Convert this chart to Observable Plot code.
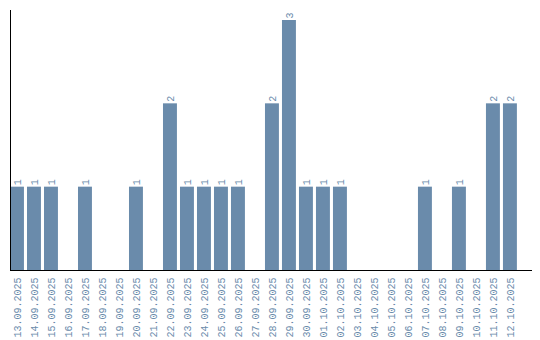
<!DOCTYPE html>
<html>
<head>
<meta charset="utf-8">
<script src="https://cdn.jsdelivr.net/npm/d3@7"></script>
<script src="https://cdn.jsdelivr.net/npm/@observablehq/plot@0.6"></script>
<style>
  body { margin: 0; background: #fff; }
  #chart svg { display: block; }
</style>
</head>
<body>
<div id="chart"></div>
<script>
const dates = ["13.09.2025","14.09.2025","15.09.2025","16.09.2025","17.09.2025","18.09.2025","19.09.2025","20.09.2025","21.09.2025","22.09.2025","23.09.2025","24.09.2025","25.09.2025","26.09.2025","27.09.2025","28.09.2025","29.09.2025","30.09.2025","01.10.2025","02.10.2025","03.10.2025","04.10.2025","05.10.2025","06.10.2025","07.10.2025","08.10.2025","09.10.2025","10.10.2025","11.10.2025","12.10.2025"];
const counts = [1,1,1,0,1,0,0,1,0,2,1,1,1,1,0,2,3,1,1,1,0,0,0,0,1,0,1,0,2,2];

const data = dates.map((d, i) => ({date: d, count: counts[i]}));
const color = "#6a8bab";

const chart = Plot.plot({
  width: 540,
  height: 340,
  marginLeft: 10,
  marginRight: 9,
  marginTop: 10,
  marginBottom: 70,
  style: {fontFamily: "Liberation Mono", fontSize: "10px", color: color, background: "#fff"},
  x: {domain: dates, paddingInner: 0.18, paddingOuter: 0.415, align: 0, round: false, label: null},
  y: {domain: [0, 3.12], axis: null},
  marks: [
    Plot.barY(data, {x: "date", y: "count", fill: color}),
    Plot.text(data.filter(d => d.count > 0), {
      x: "date", y: "count", text: d => String(d.count),
      rotate: -90, textAnchor: "start", dy: -2, fill: color, fontSize: 10
    }),
    Plot.axisX({tickSize: 0, tickPadding: 7, tickRotate: -90, fill: color, label: null, fontSize: 10}),
    Plot.frame({anchor: "left", stroke: "#000"}),
    Plot.frame({anchor: "bottom", stroke: "#000"})
  ]
});
document.getElementById("chart").appendChild(chart);
</script>
</body>
</html>
